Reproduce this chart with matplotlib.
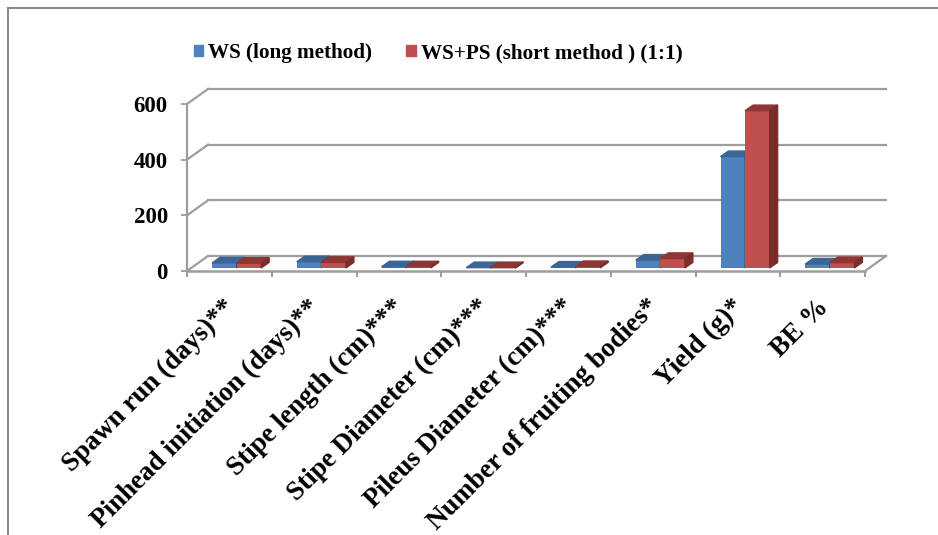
import numpy as np
import matplotlib
matplotlib.use("Agg")
import matplotlib.pyplot as plt
from matplotlib.patches import Polygon, Patch
from matplotlib.lines import Line2D

# data
categories = ["Spawn run (days)**", "Pinhead initiation (days)**", "Stipe length (cm)***",
              "Stipe Diameter (cm)***", "Pileus Diameter (cm)***", "Number of fruiting bodies*",
              "Yield (g)*", "BE %"]
ws_long = [18, 22, 4, 1, 3, 28, 400, 14]
ws_ps_short = [17, 20, 4, 1, 5, 34, 565, 19]
series_names = ["WS (long method)", "WS+PS (short method ) (1:1)"]
yticks = [0, 200, 400, 600]

plt.rcParams['font.family'] = ['Liberation Serif', 'DejaVu Serif']
plt.rcParams['font.weight'] = 'bold'

W, H = 938, 535
fig = plt.figure(figsize=(W / 100, H / 100), dpi=100)
# front plane of the 3d box: x 187..865 px, y (0 -> 271 px, 600 -> 104 px)
ax = fig.add_axes([187 / W, (H - 271) / H, 678 / W, 167 / H])
n = len(categories)
ax.set_xlim(0, n)
ax.set_ylim(0, 600)
for s in ax.spines.values():
    s.set_visible(False)

grid_c = "#9d9d9d"
WX, WY = 0.248, 54      # depth of the walls (data units)
BX, BY = 0.085, 11      # where the bars sit in depth
DX, DY = 0.094, 20      # depth of one bar
BW = 0.29               # bar width

# back wall + side wall gridlines
for t in yticks:
    ax.plot([0, WX], [t, t + WY], color=grid_c, lw=1.6, clip_on=False, zorder=1)
    ax.plot([WX, n + WX], [t + WY, t + WY], color=grid_c, lw=1.6, clip_on=False, zorder=1)
# floor and front axes
ax.plot([0, n], [0, 0], color=grid_c, lw=1.8, clip_on=False, zorder=1)
ax.plot([n, n + WX], [0, WY], color=grid_c, lw=1.6, clip_on=False, zorder=1)
ax.plot([0, 0], [0, 600], color=grid_c, lw=1.6, clip_on=False, zorder=1)

series = [(ws_long, "#4f81bd", "#3a6595", "#2f5380"),
          (ws_ps_short, "#c0504d", "#8e3633", "#7a2e2c")]
x0 = np.arange(n) + (1 - 2 * BW) / 2 + BX
for k, (vals, front, top, side) in enumerate(series):
    xl = x0 + k * BW
    ax.bar(xl, vals, width=BW, bottom=BY, align="edge", color=front,
           edgecolor="none", zorder=3 + k, clip_on=False)
    for x, v in zip(xl, vals):
        ax.add_patch(Polygon([(x, BY + v), (x + BW, BY + v), (x + BW + DX, BY + v + DY),
                              (x + DX, BY + v + DY)], closed=True, color=top,
                             zorder=3 + k, clip_on=False))
        ax.add_patch(Polygon([(x + BW, BY), (x + BW, BY + v), (x + BW + DX, BY + v + DY),
                              (x + BW + DX, BY + DY)], closed=True, color=side,
                             zorder=3 + k, clip_on=False))

ax.set_yticks(yticks)
ax.set_yticklabels([str(t) for t in yticks], fontsize=16.5, fontweight="bold")
ax.tick_params(axis="y", length=4.3, width=1.3, color=grid_c, pad=9.5)

ax.set_xticks(np.arange(n) + 0.42)
ax.set_xticklabels(categories, rotation=45, ha="right", va="top",
                   rotation_mode="anchor", fontsize=19.5, fontweight="bold")
ax.tick_params(axis="x", which="major", length=0, pad=17)
ax.set_xticks(np.arange(n + 1), minor=True)
ax.tick_params(axis="x", which="minor", length=4, width=1.5, color=grid_c, direction="out")

handles = [Patch(color=c[1]) for c in series]
fig.legend(handles, series_names, loc="center", bbox_to_anchor=(0.467, 1 - 53 / H),
           ncol=2, frameon=False, prop={"family": "Liberation Serif", "weight": "bold", "size": 15.2},
           handlelength=0.45, handleheight=0.45, handletextpad=0.25, columnspacing=1.6)

# outer chart border (only top and left visible in the crop)
fig.add_artist(Line2D([8 / W, 8 / W], [0, 1 - 8 / H], transform=fig.transFigure,
                      color="#8c8c8c", lw=1.5))
fig.add_artist(Line2D([8 / W, 1], [1 - 8 / H, 1 - 8 / H], transform=fig.transFigure,
                      color="#8c8c8c", lw=1.5))

fig.savefig("out.png", dpi=100)
